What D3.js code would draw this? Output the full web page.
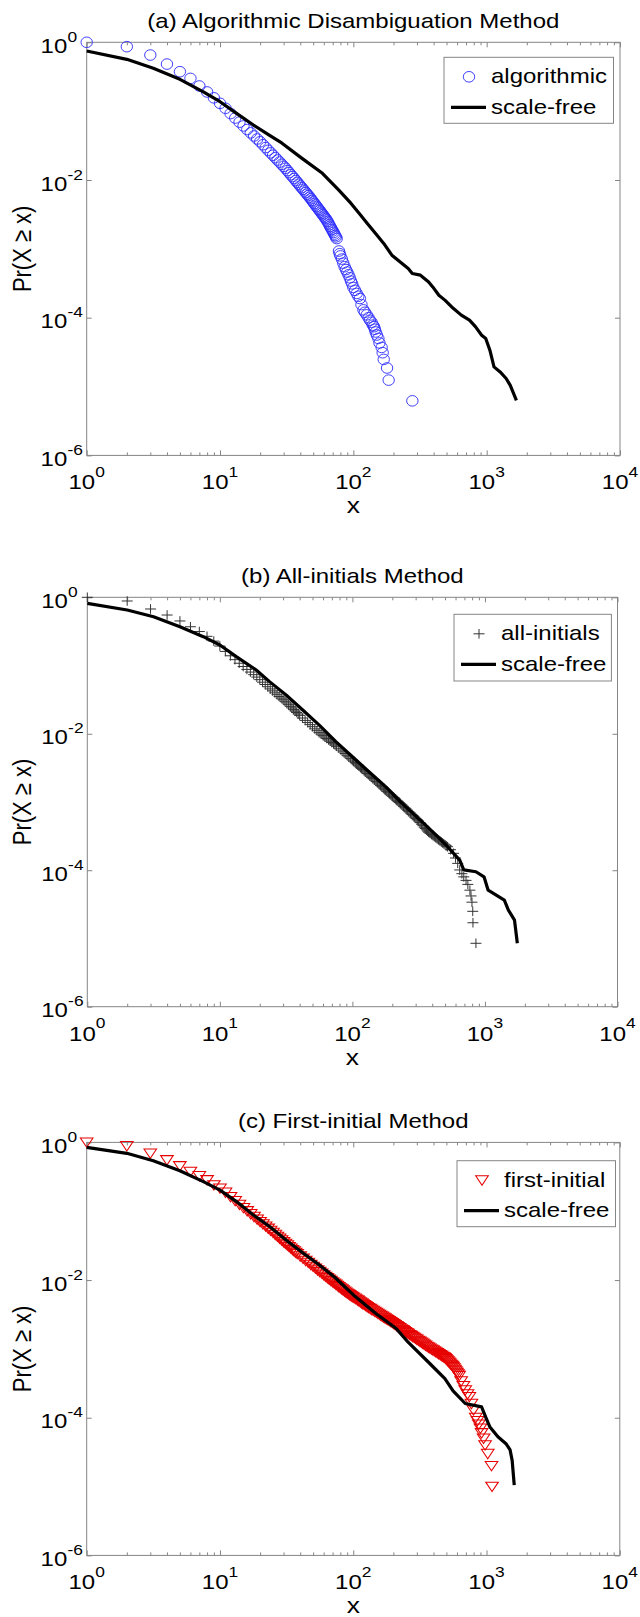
<!DOCTYPE html>
<html>
<head>
<meta charset="utf-8">
<script src="https://cdn.jsdelivr.net/npm/d3@7"></script>
<style>
  html, body { margin: 0; padding: 0; background: #fff; }
  svg { display: block; }
  text { font-family: "Liberation Sans", Arial, Helvetica, sans-serif; fill: #000; }
</style>
</head>
<body>
<svg id="chart" width="640" height="1617"></svg>
<script>
// ---------- tick labels ----------
const xTickValues = [1, 10, 100, 1000, 10000];
const xTickExponents = ["0", "1", "2", "3", "4"];
const yTickValues = [1, 1e-2, 1e-4, 1e-6];
const yTickExponents = ["0", "-2", "-4", "-6"];

// ---------- panel texts ----------
const panelTitles = ["(a) Algorithmic Disambiguation Method", "(b) All-initials Method", "(c) First-initial Method"];
const markerLabels = ["algorithmic", "all-initials", "first-initial"];
const lineLabel = "scale-free";
const xAxisLabel = "x";
const yAxisLabel = "Pr(X \u2265 x)";

// ---------- (a) algorithmic disambiguation: empirical CCDF ----------
const algX = [1,2,3,4,5,6,7,8,9,10,11,12,13,14,15,16,17,18,19,20,21,22,23,24,25,26,27,28,29,30,
  31,32,33,34,35,36,37,38,39,40,41,42,43,44,45,46,47,48,49,50,51,52,53,54,55,56,57,58,59,60,
  61,62,63,64,65,66,67,68,69,70,71,72,73,74,75,
  78,79,80,82,84,86,88,90,92,94,96,98,100,103,106,109,112,115,119,122,126,130,133,137,140,143,145,147,150,154,157,163,166,169,179,184,277];
const algP = [1,0.864,0.653,0.483,0.374,0.299,0.232,0.190,0.156,0.130,0.110,0.0923,0.0794,0.0692,0.0610,0.0541,0.0484,0.0436,0.0394,0.0359,
  0.0325,0.0296,0.0270,0.0248,0.0229,0.0211,0.0195,0.0182,0.0169,0.0158,
  0.0148,0.0137,0.0128,0.0119,0.0112,0.0105,0.00982,0.00923,0.00869,0.00819,0.00774,0.00732,0.00693,0.00657,0.00623,0.00593,0.00562,0.00533,0.00505,0.00480,
  0.00456,0.00434,0.00412,0.00393,0.00375,0.00358,0.00342,0.00327,0.00313,0.00299,
  0.00287,0.00275,0.00263,0.00250,0.00237,0.00224,0.00212,0.00201,0.00191,0.00182,0.00173,0.00164,0.00156,0.00149,0.00141,
  9.3e-4,8.5e-4,7.9e-4,7.1e-4,6.2e-4,5.5e-4,5.0e-4,4.6e-4,4.2e-4,3.8e-4,3.4e-4,3.1e-4,2.75e-4,2.5e-4,2.25e-4,2.05e-4,1.9e-4,1.55e-4,1.3e-4,1.2e-4,
  1.1e-4,1.0e-4,9.2e-5,8.6e-5,7.8e-5,7.4e-5,6.8e-5,6.2e-5,5.6e-5,5.0e-5,4.3e-5,3.7e-5,3.1e-5,2.48e-5,1.86e-5,1.24e-5,6.2e-6];
const sfAX = [1,2,3.16,5,7.5,10,13.3,17.8,23.7,29,41.2,58.6,77.8,96.1,110.8,127.3,146.8,169,194.5,231.9,
  258,276.6,318.6,367,394,438,486,561,645,743,826,917,984,1057,1135,1262,1400,1503,1671];
const sfAP = [0.748,0.566,0.419,0.29,0.191,0.137,0.093,0.0628,0.044,0.0345,0.0206,0.0125,0.00713,0.00457,0.00327,0.00234,0.00167,0.0012,8.09e-4,6.13e-4,
  5.19e-4,4.39e-4,4.15e-4,3.31e-4,2.8e-4,2.12e-4,1.8e-4,1.37e-4,1.09e-4,9.2e-5,7.35e-5,5.57e-5,4.99e-5,3.37e-5,1.93e-5,1.63e-5,1.31e-5,1.04e-5,6.3e-6];

// ---------- (b) all-initials ----------
const allX = [1,2,3,4,5,6,7,8,9,10,11,12,13,14,15,16,17,18,19,20,21,22,23,24,25,26,27,28,29,30,31,32,33,34,35,36,37,38,39,40,
  42,44,46,48,50,52,54,56,58,60,62,64,66,68,70,72,74,76,79,82,85,88,91,94,97,
  100,102,105,107,110,112,115,117,120,123,126,129,133,136,140,143,147,151,155,159,
  163,167,171,174,178,182,187,191,196,201,206,211,216,221,226,231,237,243,249,255,
  261,267,274,281,288,295,302,309,316,324,332,340,348,355,362,369,376,385,395,405,
  415,425,436,447,458,469,480,490,500,511,522,
  550,580,600,623,645,670,692,720,743,770,785,798,809,812,855];
const allP = [1,0.883,0.674,0.55,0.45,0.37,0.315,0.268,0.228,0.193,
  0.161,0.139,0.122,0.108,0.0968,0.0877,0.0802,0.0735,0.0677,0.0621,0.0570,0.0527,0.0489,0.0454,0.0425,0.0398,0.0374,0.0352,0.0333,0.0315,
  0.0299,0.0283,0.0267,0.0252,0.0239,0.0226,0.0215,0.0205,0.0195,0.0186,
  0.0170,0.0157,0.0146,0.0136,0.0127,0.0118,0.0111,0.0104,0.0099,0.0094,0.00895,0.00853,0.00814,0.00778,0.00745,0.00714,0.00684,
  0.00655,0.00614,0.00577,0.00543,0.00513,0.00484,0.00459,0.00435,
  0.00413,0.00396,0.00379,0.00364,0.00349,0.00336,0.00323,0.00311,0.0030,0.00287,0.00275,0.00262,0.0025,0.00239,0.00229,0.0022,0.0021,0.0020,0.00191,0.00183,
  0.00175,0.00168,0.00161,0.00155,0.0015,0.00143,0.00137,0.00131,0.00126,0.00121,0.00116,0.00111,0.00106,0.00102,9.84e-4,9.43e-4,9.04e-4,8.63e-4,8.24e-4,7.89e-4,
  7.55e-4,7.21e-4,6.89e-4,6.58e-4,6.28e-4,6.0e-4,5.74e-4,5.5e-4,5.27e-4,5.0e-4,4.73e-4,4.5e-4,4.27e-4,4.09e-4,3.91e-4,3.75e-4,3.6e-4,3.47e-4,3.34e-4,3.22e-4,
  3.11e-4,3.0e-4,2.89e-4,2.79e-4,2.69e-4,2.6e-4,2.51e-4,2.43e-4,2.36e-4,2.28e-4,2.21e-4,
  2.0e-4,1.77e-4,1.51e-4,1.26e-4,1.01e-4,8.9e-5,8.0e-5,7.1e-5,6.2e-5,5.1e-5,4.2e-5,3.4e-5,2.5e-5,1.7e-5,8.5e-6];
const sfBX = [1,2,3.16,5,7.5,10,13.3,18.8,23.7,31.6,42.2,56.2,75,100,133,178,237,300,367,440,
  522,645,692,855,984,1057,1400,1503,1671,1755];
const sfBP = [0.816,0.651,0.52,0.371,0.265,0.2,0.135,0.0861,0.0581,0.037,0.0223,0.0134,0.00766,0.00461,0.00278,0.00168,9.56e-4,6.25e-4,4.35e-4,3.1e-4,
  2.21e-4,1.41e-4,1.01e-4,9.5e-5,8.0e-5,5.1e-5,3.65e-5,2.6e-5,1.86e-5,8.5e-6];

// ---------- (c) first-initial ----------
const firstX = [1,2,3,4,5,6,7,8,9,10,11,12,13,14,15,16,17,18,19,20,21,22,23,24,25,26,27,28,29,30,31,32,33,34,35,36,37,38,
  40,42,44,46,48,50,52,54,56,58,60,62,
  64,66,68,70,72,74,76,78,80,82,84,86,88,90,92,94,96,98,100,
  103,105,108,110,113,116,118,121,124,127,130,134,137,141,145,149,153,157,161,165,
  169,173,177,181,186,191,196,201,206,212,217,223,229,235,240,246,252,258,265,272,
  279,286,293,300,308,316,324,332,340,349,358,367,376,386,396,406,416,427,438,450,
  460,470,478,487,496,505,514,523,532,542,551,561,570,580,590,600,611,623,
  645,670,692,720,743,770,798,830,855,875,900,918,950,975,1021,1090,1100];
const firstP = [1,0.887,0.694,0.555,0.454,0.376,0.325,0.284,0.240,0.215,
  0.1875,0.162,0.1415,0.1247,0.1117,0.1007,0.0912,0.0832,0.0762,0.0702,0.0649,0.0603,0.0561,0.0522,0.0488,0.0456,0.0428,0.0402,0.0379,0.0357,
  0.0338,0.0321,0.0304,0.0289,0.0275,0.0262,0.0251,0.0240,
  0.0222,0.0206,0.0191,0.0179,0.0167,0.0157,0.0148,0.0139,0.0132,0.0125,0.0118,0.0112,
  0.0107,0.0102,0.00977,0.00935,0.00897,0.00861,0.00826,0.00794,0.00765,0.00737,0.00711,0.00686,0.00663,0.00641,0.00624,0.00606,0.00589,0.00573,0.00558,
  0.00542,0.00525,0.00509,0.00494,0.00477,0.0046,0.00448,0.00436,0.00422,0.00408,0.00395,0.00383,0.00371,0.0036,0.00348,0.00336,0.00325,0.00315,0.00305,0.00296,
  0.00287,0.00279,0.00271,0.00264,0.00255,0.00247,0.00239,0.00231,0.00223,0.00215,0.00208,0.00201,0.00194,0.00188,0.00182,0.00177,0.00171,0.00166,0.0016,0.00155,
  0.0015,0.00146,0.00141,0.00137,0.00132,0.00128,0.00124,0.0012,0.00116,0.00112,0.00108,0.00105,0.00102,9.86e-4,9.56e-4,9.27e-4,8.99e-4,8.71e-4,8.43e-4,8.16e-4,
  7.95e-4,7.74e-4,7.57e-4,7.41e-4,7.13e-4,6.87e-4,6.62e-4,6.38e-4,6.15e-4,5.92e-4,5.71e-4,5.5e-4,5.24e-4,4.99e-4,4.75e-4,4.52e-4,4.29e-4,4.07e-4,
  3.4e-4,2.9e-4,2.52e-4,2.2e-4,2.01e-4,1.6e-4,1.29e-4,1.0e-4,9e-5,8e-5,7e-5,6e-5,5e-5,4e-5,3e-5,2e-5,1e-5];
const sfCX = [1,2,3.16,5,7.5,10,13.3,17.8,23.7,31.6,42.2,54.7,72.5,103,147,209,258,367,487,561,
  692,918,984,1057,1217,1400,1503,1557,1614];
const sfCP = [0.848,0.694,0.542,0.388,0.269,0.203,0.138,0.0882,0.0596,0.0375,0.0245,0.017,0.011,0.0058,0.0033,0.002,0.00125,6.4e-4,3.7e-4,2.45e-4,
  1.61e-4,1.44e-4,1.03e-4,7.4e-5,5.3e-5,4.2e-5,3.4e-5,2.4e-5,1.05e-5];

// ---------- layout ----------
const layout = {
  frames: [
    { left: 86.7, right: 620, top: 42.3, bottom: 455.4 },
    { left: 87.3, right: 617.5, top: 597.3, bottom: 1006.7 },
    { left: 86.7, right: 619.8, top: 1142.4, bottom: 1555.4 }
  ],
  legends: [
    { x0: 444, y0: 57.3, x1: 613.5, y1: 123.3 },
    { x0: 454, y0: 614.3, x1: 611.4, y1: 681 },
    { x0: 457, y0: 1160.7, x1: 615.5, y1: 1226.7 }
  ],
  axisColor: "#858585",
  font: 20, supFont: 14.5, labelFont: 22,
  stretch: 1.2   // glyphs are drawn wider than tall
};

const markerStyles = [
  { kind: "circle", color: "#2b2bff", width: 0.9 },
  { kind: "plus", color: "#333333", width: 1.0 },
  { kind: "tri", color: "#e60000", width: 1.05 }
];

const panels = [
  { markers: d3.zip(algX, algP), line: d3.zip(sfAX, sfAP) },
  { markers: d3.zip(allX, allP), line: d3.zip(sfBX, sfBP) },
  { markers: d3.zip(firstX, firstP), line: d3.zip(sfCX, sfCP) }
];

const svg = d3.select("#chart");

// text placed at (x, y) with horizontally widened glyphs
function addText(parent, x, y, str, size, anchor, extra) {
  const t = parent.append("text")
    .attr("transform", `translate(${x},${y}) scale(${layout.stretch},1)${extra || ""}`)
    .attr("text-anchor", anchor || "start")
    .attr("font-size", size);
  if (str !== null) t.text(str);
  return t;
}

function drawMarker(sel, st) {
  if (st.kind === "circle") {
    sel.append("ellipse").attr("rx", 5.7).attr("ry", 5.3).attr("fill", "none")
      .attr("stroke", st.color).attr("stroke-width", st.width);
  } else if (st.kind === "plus") {
    sel.append("path").attr("d", "M-5.5,0H5.5M0,-4.8V4.8").attr("fill", "none")
      .attr("stroke", st.color).attr("stroke-width", st.width);
  } else {
    sel.append("path").attr("d", "M-6.3,-4.4L6.3,-4.4L0,5Z").attr("fill", "none")
      .attr("stroke", st.color).attr("stroke-width", st.width);
  }
}

panels.forEach((pn, i) => {
  const { left, right, top, bottom } = layout.frames[i];
  const xs = d3.scaleLog().domain([1, 1e4]).range([left, right]);
  const ys = d3.scaleLog().domain([1e-6, 1]).range([bottom, top]);
  const allXTicks = xs.ticks();
  const majorX = allXTicks.filter(v => Math.abs(Math.log10(v) - Math.round(Math.log10(v))) < 1e-9);
  const minorX = allXTicks.filter(v => !majorX.includes(v));
  const g = svg.append("g");
  const st = markerStyles[i];
  const cx = (left + right) / 2;

  // title
  addText(g, cx, top - 14.5, panelTitles[i], layout.font, "middle");

  // axes box
  g.append("rect")
    .attr("x", left).attr("y", top)
    .attr("width", right - left).attr("height", bottom - top)
    .attr("fill", "none").attr("stroke", layout.axisColor).attr("stroke-width", 1);

  const styleAxis = a => {
    a.select(".domain").remove();
    a.selectAll(".tick line").attr("stroke", layout.axisColor);
  };
  // x ticks pointing inward on bottom and top edges
  g.append("g").attr("transform", `translate(0,${bottom})`)
    .call(d3.axisBottom(xs).tickValues(majorX).tickSize(-5).tickFormat("")).call(styleAxis);
  g.append("g").attr("transform", `translate(0,${bottom})`)
    .call(d3.axisBottom(xs).tickValues(minorX).tickSize(-3).tickFormat("")).call(styleAxis);
  g.append("g").attr("transform", `translate(0,${top})`)
    .call(d3.axisTop(xs).tickValues(majorX).tickSize(-5).tickFormat("")).call(styleAxis);
  g.append("g").attr("transform", `translate(0,${top})`)
    .call(d3.axisTop(xs).tickValues(minorX).tickSize(-3).tickFormat("")).call(styleAxis);
  // y ticks pointing inward on left and right edges
  g.append("g").attr("transform", `translate(${left},0)`)
    .call(d3.axisLeft(ys).tickValues(yTickValues).tickSize(-5).tickFormat("")).call(styleAxis);
  g.append("g").attr("transform", `translate(${right},0)`)
    .call(d3.axisRight(ys).tickValues(yTickValues).tickSize(-5).tickFormat("")).call(styleAxis);

  // x tick labels: 10 with a raised exponent
  xTickValues.forEach((v, k) => {
    const t = addText(g, xs(v), bottom + 34, null, layout.font, "middle");
    t.append("tspan").text("10");
    t.append("tspan").attr("font-size", layout.supFont).attr("dy", -12.5).text(xTickExponents[k]);
  });
  // y tick labels
  yTickValues.forEach((v, k) => {
    addText(g, left - 19.4, ys(v) + 10.5, "10", layout.font, "end");
    addText(g, left - 19.2, ys(v) - 0.5, yTickExponents[k], layout.supFont, "start");
  });

  // axis labels
  addText(g, cx, bottom + 58, xAxisLabel, layout.labelFont, "middle");
  addText(g, 31, (top + bottom) / 2, yAxisLabel, layout.labelFont, "middle", " rotate(-90)");

  // empirical markers
  const mk = g.append("g");
  pn.markers.forEach(d => {
    const s = mk.append("g").attr("transform", `translate(${xs(d[0])},${ys(d[1])})`);
    drawMarker(s, st);
  });

  // fitted scale-free curve
  const line = d3.line().x(d => xs(d[0])).y(d => ys(d[1]));
  g.append("path").datum(pn.line)
    .attr("d", line).attr("fill", "none")
    .attr("stroke", "#000").attr("stroke-width", 3.2)
    .attr("stroke-linejoin", "round");

  // legend
  const L = layout.legends[i];
  const lg = g.append("g");
  lg.append("rect").attr("x", L.x0).attr("y", L.y0)
    .attr("width", L.x1 - L.x0).attr("height", L.y1 - L.y0)
    .attr("fill", "#fff").attr("stroke", layout.axisColor).attr("stroke-width", 1);
  const row1 = L.y0 + 19.5, row2 = L.y0 + 50;
  const ms = lg.append("g").attr("transform", `translate(${L.x0 + 25},${row1})`);
  drawMarker(ms, st);
  addText(lg, L.x0 + 47, row1 + 6.5, markerLabels[i], layout.font, "start");
  lg.append("line").attr("x1", L.x0 + 7).attr("x2", L.x0 + 42)
    .attr("y1", row2).attr("y2", row2)
    .attr("stroke", "#000").attr("stroke-width", 3.2);
  addText(lg, L.x0 + 47, row2 + 6.5, lineLabel, layout.font, "start");
});
</script>
</body>
</html>
